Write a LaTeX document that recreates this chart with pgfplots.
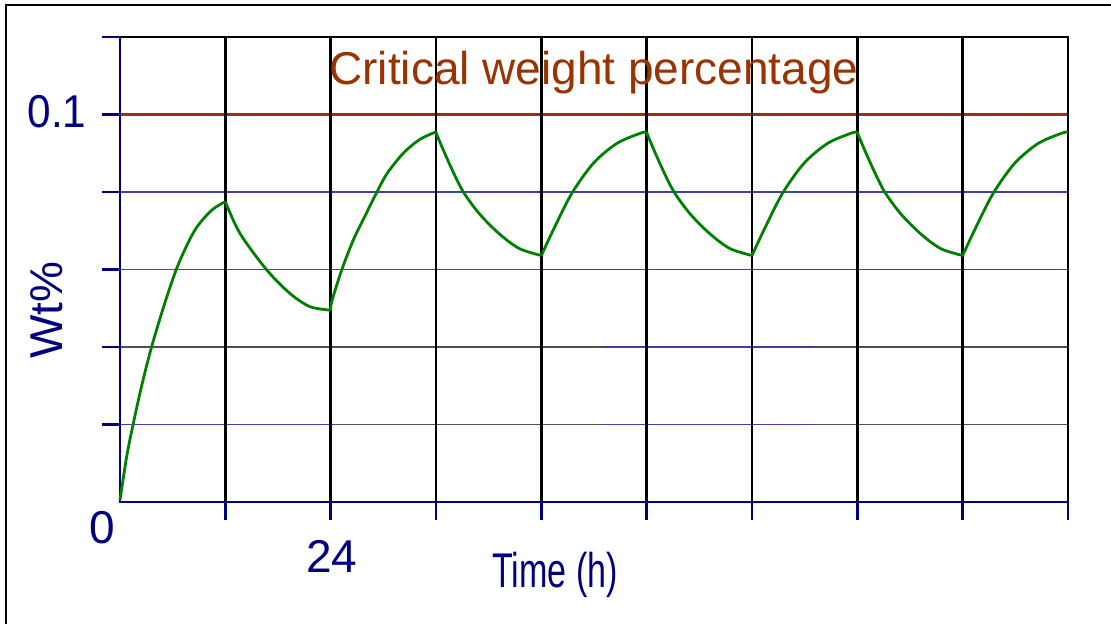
\documentclass[border=0pt]{standalone}
\usepackage{fontspec}
\setmainfont{Liberation Sans}
\usepackage{pgfplots}
\pgfplotsset{compat=1.18}
\definecolor{navy}{RGB}{0,0,128}
\definecolor{gridblue}{RGB}{64,64,160}
\definecolor{gridgray}{RGB}{80,80,80}
\definecolor{crit}{RGB}{153,51,0}
\definecolor{curve}{RGB}{0,128,0}

\begin{document}
\begin{tikzpicture}
\useasboundingbox (-60pt,-61pt) rectangle (495.5pt,251pt);
% outer frame (left and top edges only show)
\draw[line width=0.8pt] (-57pt,-61pt) -- (-57pt,248.5pt) -- (495.5pt,248.5pt);
\begin{axis}[
  at={(0,0)}, anchor=south west,
  scale only axis, width=474pt, height=232.5pt,
  xmin=0, xmax=108, ymin=0, ymax=0.12,
  axis line style={draw=none},
  xtick={12,24,36,48,60,72,84,96,108},
  ytick={0.02,0.04,0.06,0.08,0.1,0.12},
  xticklabels={,,,,,,,,}, yticklabels={,,,,,},
  xtick pos=left, ytick pos=left,
  tick align=outside, major tick length=9pt,
  tick style={navy, line width=1.2pt},
  clip=false,
]
  %% horizontal grid, mixed blue / grey as in the original
  \draw[gridblue, line width=0.7pt] (axis cs:0,0.02) -- (axis cs:24,0.02);
  \draw[gridgray, line width=0.7pt] (axis cs:24,0.02) -- (axis cs:55,0.02);
  \draw[gridblue, line width=0.7pt] (axis cs:55,0.02) -- (axis cs:79,0.02);
  \draw[gridgray, line width=0.7pt] (axis cs:79,0.02) -- (axis cs:108,0.02);
  \draw[gridgray, line width=0.7pt] (axis cs:0,0.04) -- (axis cs:55,0.04);
  \draw[gridblue, line width=0.7pt] (axis cs:55,0.04) -- (axis cs:79,0.04);
  \draw[gridgray, line width=0.7pt] (axis cs:79,0.04) -- (axis cs:108,0.04);
  \draw[gridgray, line width=0.7pt] (axis cs:0,0.06) -- (axis cs:48,0.06);
  \draw[gridblue, line width=0.7pt] (axis cs:48,0.06) -- (axis cs:108,0.06);
  \draw[gridblue, line width=0.7pt] (axis cs:0,0.08) -- (axis cs:108,0.08);

  %% critical weight percentage
  \addplot[crit, line width=1.3pt] coordinates {(0,0.1) (108,0.1)};

  %% vertical grid every 12 h, frame
  \pgfplotsinvokeforeach{12,24,...,96}{
    \draw[black, line width=1.3pt] (axis cs:#1,0) -- (axis cs:#1,0.12);
  }
  \draw[black, line width=1.3pt] (axis cs:0,0.12) -- (axis cs:108,0.12) -- (axis cs:108,0);
  \draw[navy, line width=1.4pt] (axis cs:0,0.12) -- (axis cs:0,0) -- (axis cs:108,0);

  %% Wt% curve, one piece per 12 h phase
  \pgfplotsset{every axis plot/.append style={curve, line width=1.4pt}}
  \addplot[smooth] coordinates {
    (0,0.0005) (0.76,0.0117) (1.52,0.0203) (2.47,0.0300) (3.61,0.0401)
    (5.13,0.0515) (6.64,0.0613) (8.54,0.0702) (10.45,0.0753) (12,0.0775)};
  \addplot[smooth] coordinates {
    (12,0.0775) (13.67,0.0693) (16.71,0.0599) (19.37,0.0538) (21.65,0.0504) (24,0.0495)};
  \addplot[smooth] coordinates {
    (24,0.0495) (24.12,0.0517) (25.26,0.0599) (26.58,0.0676) (27.91,0.0738)
    (29.05,0.0790) (30.38,0.0846) (32.27,0.0900) (34.18,0.0936) (36,0.0955)};
  \addplot[smooth] coordinates {
    (36,0.0955) (36.2,0.0942) (37.52,0.0873) (39.04,0.0803) (40.93,0.0744)
    (43.21,0.0692) (45.49,0.0654) (48,0.0636)};
  \addplot[smooth] coordinates {
    (48,0.0636) (49.36,0.0702) (51.46,0.0796) (53.92,0.0874) (56.58,0.0925)
    (59.2,0.0951) (60,0.0955)};
  \addplot[smooth] coordinates {
    (60,0.0955) (60.2,0.0942) (61.52,0.0873) (63.04,0.0803) (64.93,0.0744)
    (67.21,0.0692) (69.49,0.0654) (72,0.0636)};
  \addplot[smooth] coordinates {
    (72,0.0636) (73.36,0.0702) (75.46,0.0796) (77.92,0.0874) (80.58,0.0925)
    (83.2,0.0951) (84,0.0955)};
  \addplot[smooth] coordinates {
    (84,0.0955) (84.2,0.0942) (85.52,0.0873) (87.04,0.0803) (88.93,0.0744)
    (91.21,0.0692) (93.49,0.0654) (96,0.0636)};
  \addplot[smooth] coordinates {
    (96,0.0636) (97.36,0.0702) (99.46,0.0796) (101.92,0.0874) (104.58,0.0925)
    (107.2,0.0951) (108,0.0955)};
\end{axis}

\begin{scope}[every node/.style={inner sep=0pt, font=\fontsize{23}{28}\selectfont}]
  \node[navy, xscale=0.92] at (-31.5pt,195pt) {0.1};
  \node[navy] at (-9pt,-13pt) {0};
  \node[navy] at (106pt,-27pt) {24};
  \node[navy, anchor=base, xscale=0.74, yscale=1.06] at (217.5pt,-43pt) {Time (h)};
  \node[navy, anchor=base, rotate=90] at (-28.5pt,96pt) {Wt\%};
  \node[crit, anchor=base] at (237pt,208.5pt) {Critical weight percentage};
\end{scope}
\end{tikzpicture}
\end{document}
